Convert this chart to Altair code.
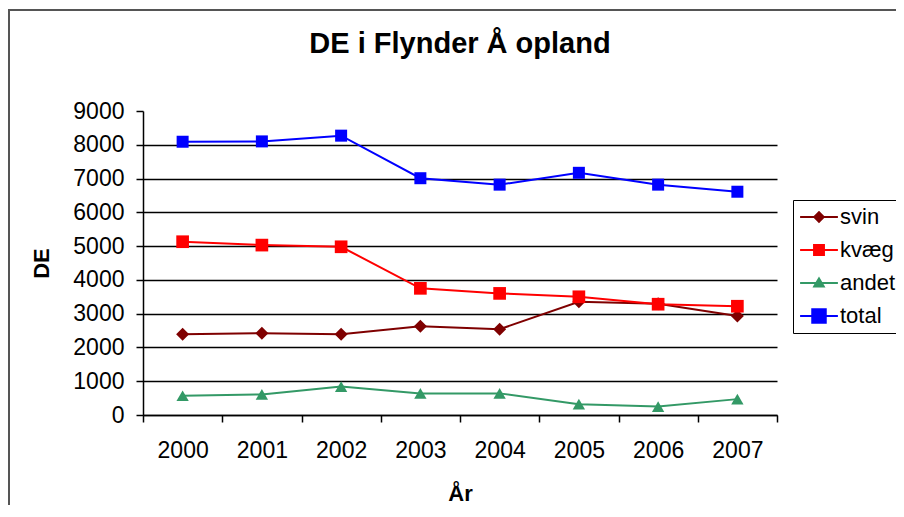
import altair as alt
import pandas as pd

years = ["2000", "2001", "2002", "2003", "2004", "2005", "2006", "2007"]
series_names = ["svin", "kvæg", "andet", "total"]
svin = [2390, 2420, 2390, 2630, 2540, 3350, 3290, 2930]
kvaeg = [5130, 5030, 4980, 3750, 3600, 3500, 3280, 3220]
andet = [570, 610, 840, 640, 640, 320, 250, 470]
total = [8090, 8100, 8270, 7010, 6820, 7170, 6820, 6610]
y_ticks = [0, 1000, 2000, 3000, 4000, 5000, 6000, 7000, 8000, 9000]

colors = ["#7F0000", "#FF0000", "#339966", "#0000FF"]
marker_shapes = ["diamond", "square", "triangle-up", "square"]
marker_sizes = [169, 144, 144, 289]
legend_shapes = [
    "M-4.2,0H4.2M-1.05,0L0,-1.05L1.05,0L0,1.05Z",
    "M-4.2,0H4.2M-1.1,-1.1H1.1V1.1H-1.1Z",
    "M-4.2,0H4.2M-1.05,0.75L0,-1.0L1.05,0.75Z",
    "M-4.2,0H4.2M-1.5,-1.5H1.5V1.5H-1.5Z",
]

rows = []
for name, vals in zip(series_names, [svin, kvaeg, andet, total]):
    for yr, v in zip(years, vals):
        rows.append({"year": yr, "series": name, "value": v})
df = pd.DataFrame(rows)

FONT = "Liberation Sans"

x_enc = alt.X(
    "year:N", sort=years,
    scale=alt.Scale(type="band", paddingInner=0, paddingOuter=0),
    axis=alt.Axis(title="År", tickBand="extent", labelAngle=0, labelFontSize=23,
                  labelFont=FONT, labelColor="#000", tickSize=7, tickColor="#000",
                  tickWidth=1.5, domainColor="#000", domainWidth=1.5, labelPadding=17,
                  titleFontSize=22, titleFont=FONT, titleFontWeight="bold",
                  titleColor="#000", titlePadding=21, grid=False),
)
y_enc = alt.Y(
    "value:Q",
    scale=alt.Scale(domain=[0, 9000], nice=False),
    axis=alt.Axis(title="DE", values=y_ticks, format="d", grid=True, gridColor="#000", gridWidth=1.5,
                  gridOpacity={"condition": {"test": "datum.value >= 9000", "value": 0}, "value": 1},
                  labelFontSize=23, labelFont=FONT, labelColor="#000", tickSize=7,
                  tickColor="#000", tickWidth=1.5, domainColor="#000", domainWidth=1.5,
                  labelPadding=12, titleFontSize=22, titleFont=FONT, titleFontWeight="bold",
                  titleColor="#000", titlePadding=19),
)

color_scale = alt.Scale(domain=series_names, range=colors)

one = pd.DataFrame({"a": [0]})
frame_left = alt.Chart(one).mark_rule(stroke="#555555", strokeWidth=2).encode(
    x=alt.value(-134), y=alt.value(-102), y2=alt.value(420))
frame_top = alt.Chart(one).mark_rule(stroke="#555555", strokeWidth=2).encode(
    x=alt.value(-135), x2=alt.value(800), y=alt.value(-101))

lines = alt.Chart(df).mark_line(strokeWidth=2).encode(
    x=x_enc, y=y_enc,
    color=alt.Color("series:N", scale=color_scale, legend=None),
    detail="series:N",
)

points = alt.Chart(df).mark_point(filled=True, opacity=1).encode(
    x=x_enc, y=y_enc,
    color=alt.Color("series:N", scale=color_scale, legend=None),
    shape=alt.Shape("series:N", scale=alt.Scale(domain=series_names, range=marker_shapes), legend=None),
    size=alt.Size("series:N", scale=alt.Scale(domain=series_names, range=marker_sizes), legend=None),
)

stroke_expr = ""
for name, col in zip(series_names, colors):
    stroke_expr += f"datum.value == '{name}' ? '{col}' : "
stroke_expr += "'#000'"

leg = alt.Legend(title=None, orient="none", legendX=650, legendY=89, padding=6,
                 strokeColor="#000", fillColor="#fff", labelFontSize=22, labelFont=FONT,
                 labelColor="#000", symbolSize=81, symbolStrokeWidth=2, symbolOffset=9,
                 labelOffset=10, rowPadding=11,
                 symbolStrokeColor=alt.ExprRef(expr=stroke_expr))

legend_layer = alt.Chart(df).mark_point(filled=True, opacity=1, strokeWidth=2, size=81).encode(
    color=alt.Color("series:N", scale=color_scale, legend=leg),
    shape=alt.Shape("series:N", scale=alt.Scale(domain=series_names, range=legend_shapes), legend=leg),
).transform_filter("false")

chart = alt.layer(frame_left, frame_top, lines, points, legend_layer).resolve_scale(
    color="independent", shape="independent", size="independent"
).properties(
    width=634, height=304,
    title=alt.TitleParams("DE i Flynder Å opland", font=FONT, fontSize=29, fontWeight="bold",
                          color="#000", anchor="middle", offset=-51),
    padding={"left": 135, "top": 103, "right": 119, "bottom": 90},
    autosize="none",
).configure_view(stroke="transparent")

chart.save("out.html", embed_options={"renderer": "svg", "actions": False})
